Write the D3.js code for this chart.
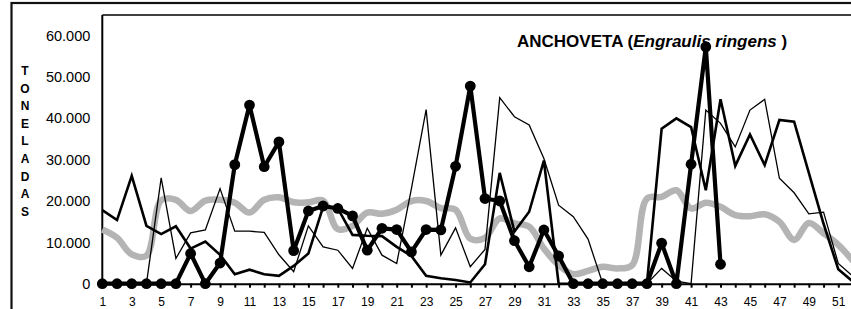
<!DOCTYPE html>
<html>
  <head>
    <meta charset="utf-8">
    <title>Anchoveta (Engraulis ringens)</title>
    <script src="https://cdn.jsdelivr.net/npm/d3@7"></script>
    <style>
      body { margin: 0; background: #fff; }
      svg { display: block; font-family: Arial, "Liberation Sans", sans-serif; }
      .axis path, .axis line { stroke: #000; stroke-width: 2; }
      .axis text { fill: #000; }
    </style>
  </head>
  <body>
    <svg id="chart" width="851" height="309"></svg>
    <script>
      // semanas del año
      semanas = [1, 2, 3, 4, 5, 6, 7, 8, 9, 10, 11, 12, 13, 14, 15, 16, 17, 18, 19, 20,
        21, 22, 23, 24, 25, 26, 27, 28, 29, 30, 31, 32, 33, 34, 35, 36, 37, 38, 39, 40,
        41, 42, 43, 44, 45, 46, 47, 48, 49, 50, 51, 52];
      // toneladas por semana
      serieMarcas = [0, 0, 0, 0, 0, 0, 7300, 0, 5000, 28800, 43200, 28300, 34300, 8000, 17600, 18800,
        18200, 16400, 8100, 13400, 13100, 7700, 13100, 13000, 28400, 47800, 20600, 20000, 10400,
        4100, 13000, 6700, 0, 0, 0, 0, 0, 0, 9800, 0, 28900, 57300, 4700];
      serieGruesa = [17800, 15400, 26100, 14000, 12000, 13900, 8500, 10200, 7000, 2300, 3400, 2300,
        1900, 4300, 7300, 18600, 18200, 11800, 11600, 11500, 8900, 6700, 1900, 1300, 900, 300,
        4700, 26800, 12600, 17400, 29800, 0, 0, 0, 0, 0, 0, 0, 37500, 40000, 37900, 22600, 44600,
        28500, 36100, 28700, 39600, 39200, 26800, 14500, 3500, 500];
      serieFina = [0, 0, 0, 0, 25600, 6100, 12300, 13000, 23000, 12700, 12700, 12400, 7000, 2900,
        14000, 8900, 8100, 3700, 13400, 6900, 4900, 23000, 42100, 6900, 13500, 4100, 8300, 45000,
        40400, 38400, 30300, 19000, 16200, 10800, 0, 0, 0, 0, 3700, 600, 0, 42000, 38800, 33100,
        42000, 44600, 25500, 22000, 16900, 17300, 4900, 1800];
      seriePromedio = [13100, 11100, 7100, 6800, 20200, 20300, 17600, 20100, 20300, 19600, 17200,
        20300, 20900, 19700, 19700, 20100, 13200, 14000, 17200, 16900, 17900, 20000, 20000, 18300,
        17900, 10900, 11100, 15800, 14600, 13800, 8500, 4500, 2300, 3100, 4100, 3700, 4500, 20600,
        21000, 22600, 18200, 19600, 18600, 16600, 16300, 16800, 15000, 10600, 14700, 12200, 9400, 5500];
      yTicks = [0, 10000, 20000, 30000, 40000, 50000, 60000];
      ejeTitulo = "TONELADAS";

      // page elements
      chart = d3.select("#chart");
      margin = { top: 15, left: 102.3, bottom: 283.7, right: 853 };
      x = d3.scalePoint()
        .domain(semanas)
        .range([margin.left, margin.right]);
      y = d3.scaleLinear()
        .domain([0, 65000])
        .range([margin.bottom, margin.top]);
      miles = d3.formatLocale({ decimal: ",", thousands: ".", grouping: [3], currency: ["", ""] })
        .format(",");

      // outer frame and plot frame
      chart.append("rect")
        .attr("x", 11.5).attr("y", 3)
        .attr("width", 900).attr("height", 400)
        .attr("fill", "none").attr("stroke", "#111").attr("stroke-width", 2.2);
      chart.append("line")
        .attr("x1", margin.left).attr("x2", 900)
        .attr("y1", margin.top).attr("y2", margin.top)
        .attr("stroke", "#000").attr("stroke-width", 1.6);

      // title
      title = chart.append("text")
        .attr("x", 517).attr("y", 47)
        .attr("font-size", 17).attr("font-weight", "bold");
      title.append("tspan").text("ANCHOVETA (");
      title.append("tspan").attr("font-style", "italic").text("Engraulis ringens");
      title.append("tspan").text(" )");

      // y axis title, one letter per row
      chart.append("g")
        .selectAll("text")
          .data(ejeTitulo.split(""))
        .enter().append("text")
          .attr("x", 25)
          .attr("y", function(d, i) { return 75 + i * 17.6; })
          .attr("text-anchor", "middle")
          .attr("font-size", 12)
          .attr("font-weight", "bold")
          .text(function(d) { return d; });

      // axes
      yAxis = d3.axisLeft(y)
        .tickValues(yTicks)
        .tickSize(0)
        .tickPadding(12)
        .tickFormat(miles);
      chart.append("g")
        .attr("class", "axis")
        .attr("transform", "translate(" + margin.left + ",0)")
        .call(yAxis)
        .call(function(g) { g.select(".domain").attr("d", "M0," + margin.bottom + "V" + margin.top); })
        .selectAll("text").attr("font-size", 14.5);
      xAxis = d3.axisBottom(x)
        .tickSizeInner(4)
        .tickSizeOuter(0)
        .tickPadding(10)
        .tickFormat(function(d) { return d % 2 ? d : ""; });
      chart.append("g")
        .attr("class", "axis")
        .attr("transform", "translate(0," + margin.bottom + ")")
        .call(xAxis)
        .selectAll("text").attr("font-size", 12);

      // lines
      line = d3.line()
        .x(function(d, i) { return x(semanas[i]); })
        .y(function(d) { return y(d); });
      chart.append("path")
        .attr("d", line.curve(d3.curveCatmullRom)(seriePromedio))
        .attr("fill", "none").attr("stroke", "#b4b4b4").attr("stroke-width", 6.5);
      line.curve(d3.curveLinear);
      chart.append("path")
        .attr("d", line(serieFina))
        .attr("fill", "none").attr("stroke", "#000").attr("stroke-width", 1.3);
      chart.append("path")
        .attr("d", line(serieGruesa))
        .attr("fill", "none").attr("stroke", "#000").attr("stroke-width", 2.6);
      chart.append("path")
        .attr("d", line(serieMarcas))
        .attr("fill", "none").attr("stroke", "#000").attr("stroke-width", 4.2)
        .attr("stroke-linejoin", "round");
      chart.append("g")
        .selectAll("circle")
          .data(serieMarcas)
        .enter().append("circle")
          .attr("cx", function(d, i) { return x(semanas[i]); })
          .attr("cy", function(d) { return y(d); })
          .attr("r", 5.4)
          .attr("fill", "#000");
    </script>
  </body>
</html>
